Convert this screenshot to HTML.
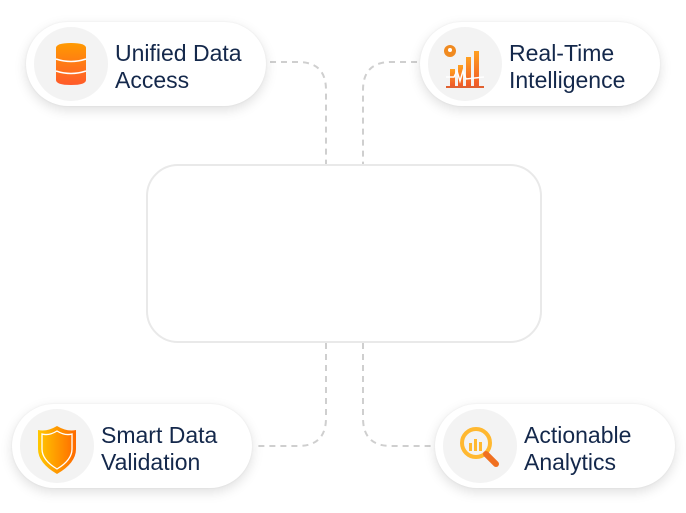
<!DOCTYPE html>
<html><head><style>
body{margin:0;width:686px;height:513px;background:#fff;position:relative;overflow:hidden;font-family:"Liberation Sans",sans-serif}
.pill{position:absolute;width:240px;height:84px;border-radius:42px;background:#fff;box-shadow:0 4px 12px rgba(0,0,0,0.13),0 0 2px rgba(0,0,0,0.06)}
.circ{position:absolute;left:8px;top:5px;width:74px;height:74px;border-radius:50%;background:#f3f3f3}
.circ svg{position:absolute;left:0;top:0}
.txt{position:absolute;left:89px;top:18px;font-size:23px;line-height:27px;color:#14284b}
.box{position:absolute;left:146px;top:164px;width:392px;height:175px;border:2px solid #e9e9e9;border-radius:32px}
</style></head><body>
<svg width="686" height="513" style="position:absolute;left:0;top:0">
<g fill="none" stroke="#cfcfcf" stroke-width="2" stroke-dasharray="6 5">
<path d="M270 62 H298 Q326 62 326 90 V164"/>
<path d="M417 62 H391 Q363 62 363 90 V164"/>
<path d="M326 343 V418 Q326 446 298 446 H255"/>
<path d="M363 343 V418 Q363 446 391 446 H433"/>
</g></svg>
<div class="box"></div>
<div class="pill" style="left:26px;top:22px"><div class="circ"><svg width="74" height="74">
<defs><linearGradient id="g1" x1="0" y1="0" x2="0" y2="1"><stop offset="0" stop-color="#ff9a00"/><stop offset="1" stop-color="#ff5a2a"/></linearGradient></defs>
<path d="M22 21 Q22 16 37 16 Q52 16 52 21 V53 Q52 58 37 58 Q22 58 22 53 Z" fill="url(#g1)"/>
<path d="M22 32 Q37 37 52 32 M22 44 Q37 49 52 44" stroke="#fff" stroke-width="1.5" fill="none"/>
</svg></div><div class="txt">Unified Data<br>Access</div></div>
<div class="pill" style="left:420px;top:22px"><div class="circ"><svg width="74" height="74">
<defs><linearGradient id="g2" x1="0" y1="0" x2="0" y2="1"><stop offset="0" stop-color="#ffa020"/><stop offset="1" stop-color="#f05a28"/></linearGradient></defs>
<circle cx="22" cy="24" r="6" fill="#f08a20"/><circle cx="22" cy="23" r="2" fill="#fff"/>
<rect x="22" y="42" width="5" height="17" fill="url(#g2)"/><rect x="30" y="38" width="5" height="21" fill="url(#g2)"/><rect x="38" y="30" width="5" height="29" fill="url(#g2)"/><rect x="46" y="24" width="5" height="35" fill="url(#g2)"/>
<path d="M18 50 L26 50 L29 44 L32 54 L35 44 L38 52 L56 50" stroke="#fff" stroke-width="1.5" fill="none"/>
<rect x="18" y="59" width="38" height="2" fill="#e06030"/>
</svg></div><div class="txt">Real-Time<br>Intelligence</div></div>
<div class="pill" style="left:12px;top:404px"><div class="circ"><svg width="74" height="74">
<defs><linearGradient id="g3" x1="0" y1="0" x2="1" y2="0"><stop offset="0" stop-color="#ffc800"/><stop offset="1" stop-color="#ff6a00"/></linearGradient></defs>
<path d="M37 17 Q47 23 56 21 V40 Q56 54 37 65 Q18 54 18 40 V21 Q27 23 37 17 Z" fill="url(#g3)"/>
<path d="M37 22 Q45 27 52 25 V40 Q52 51 37 60 Q22 51 22 40 V25 Q29 27 37 22 Z" fill="none" stroke="#fff" stroke-width="1.3"/>
</svg></div><div class="txt">Smart Data<br>Validation</div></div>
<div class="pill" style="left:435px;top:404px"><div class="circ"><svg width="74" height="74">
<circle cx="33" cy="34" r="14" fill="none" stroke="#ffb830" stroke-width="4"/>
<rect x="26" y="34" width="3" height="8" fill="#ffb830"/><rect x="31" y="30" width="3" height="12" fill="#ffb830"/><rect x="36" y="33" width="3" height="9" fill="#ffb830"/>
<line x1="43" y1="45" x2="53" y2="55" stroke="#f07020" stroke-width="6" stroke-linecap="round"/>
</svg></div><div class="txt">Actionable<br>Analytics</div></div>
</body></html>
